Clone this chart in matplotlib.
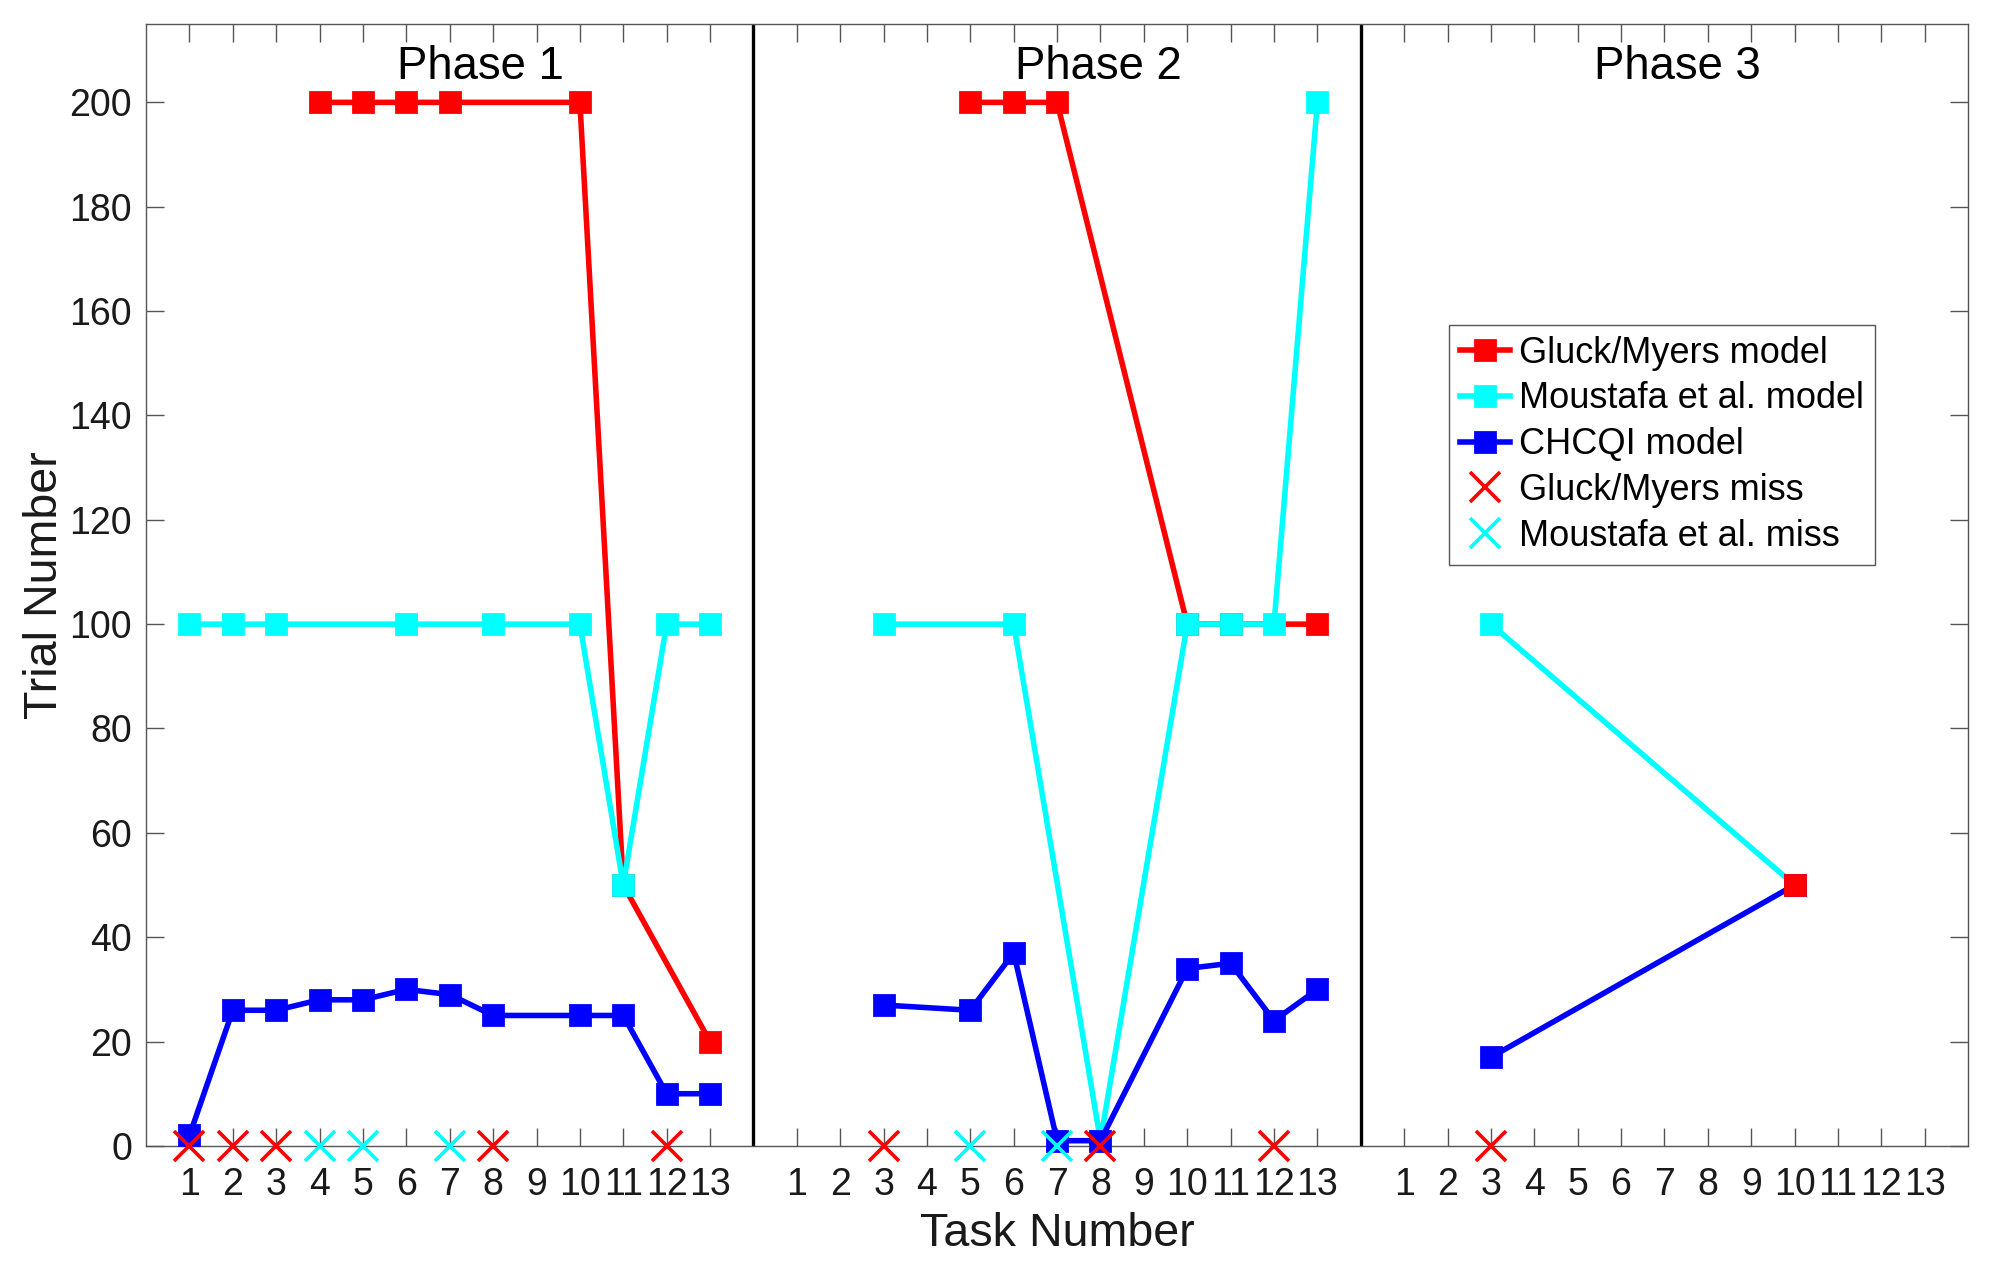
import numpy as np
import matplotlib
matplotlib.use("Agg")
import matplotlib.pyplot as plt
from matplotlib.lines import Line2D

plt.rcParams["font.family"] = ["Liberation Sans", "DejaVu Sans"]

RED, CYAN, BLUE = "#ff0000", "#00ffff", "#0000ff"

# task numbers within each phase and trial counts
gm_p1_tasks = [4, 5, 6, 7, 10, 11, 13]
gm_p1 = [200, 200, 200, 200, 200, 50, 20]
mo_p1_tasks = [1, 2, 3, 6, 8, 10, 11, 12, 13]
mo_p1 = [100, 100, 100, 100, 100, 100, 50, 100, 100]
ch_p1_tasks = [1, 2, 3, 4, 5, 6, 7, 8, 10, 11, 12, 13]
ch_p1 = [2, 26, 26, 28, 28, 30, 29, 25, 25, 25, 10, 10]
gm_p1_miss = [1, 2, 3, 8, 12]
mo_p1_miss = [4, 5, 7]

gm_p2_tasks = [5, 6, 7, 10, 11, 13]
gm_p2 = [200, 200, 200, 100, 100, 100]
mo_p2_tasks = [3, 6, 8, 10, 11, 12, 13]
mo_p2 = [100, 100, 1, 100, 100, 100, 200]
ch_p2_tasks = [3, 5, 6, 7, 8, 10, 11, 12, 13]
ch_p2 = [27, 26, 37, 1, 1, 34, 35, 24, 30]
gm_p2_miss = [3, 8, 12]
mo_p2_miss = [5, 7]

gm_p3_tasks = [10]
gm_p3 = [50]
mo_p3_tasks = [3, 10]
mo_p3 = [100, 50]
ch_p3_tasks = [3, 10]
ch_p3 = [17, 50]
gm_p3_miss = [3]
mo_p3_miss = []

phase_names = ["Phase 1", "Phase 2", "Phase 3"]
n_tasks = 13
offset = n_tasks + 1  # each phase block is 14 units wide

phases = [
    (gm_p1_tasks, gm_p1, mo_p1_tasks, mo_p1, ch_p1_tasks, ch_p1, gm_p1_miss, mo_p1_miss),
    (gm_p2_tasks, gm_p2, mo_p2_tasks, mo_p2, ch_p2_tasks, ch_p2, gm_p2_miss, mo_p2_miss),
    (gm_p3_tasks, gm_p3, mo_p3_tasks, mo_p3, ch_p3_tasks, ch_p3, gm_p3_miss, mo_p3_miss),
]

fig = plt.figure(figsize=(9.95, 6.345), dpi=200)
ax = fig.add_axes([0.0734, 0.097, 0.9156, 0.884])

lw, ms = 2.0, 7.5
xms, xmew = 10.5, 1.3
for k, (gt, gv, mt, mv, ct, cv, gmiss, mmiss) in enumerate(phases):
    off = k * offset
    gz = 6 if k == 2 else 2  # in phase 3 the red point sits on top
    ax.plot(np.array(gt) + off, gv, "-s", color=RED, lw=lw, ms=ms, zorder=gz, clip_on=False)
    ax.plot(np.array(mt) + off, mv, "-s", color=CYAN, lw=lw, ms=ms, zorder=3, clip_on=False)
    ax.plot(np.array(ct) + off, cv, "-s", color=BLUE, lw=lw, ms=ms, zorder=4, clip_on=False)
    ax.plot(np.array(gmiss) + off, np.zeros(len(gmiss)), "x", color=RED, ms=xms, mew=xmew,
            zorder=7, clip_on=False)
    if mmiss:
        ax.plot(np.array(mmiss) + off, np.zeros(len(mmiss)), "x", color=CYAN, ms=xms, mew=xmew,
                zorder=7, clip_on=False)

# phase separators
for k in (1, 2):
    ax.axvline(k * offset, color="black", lw=1.2, zorder=1)

title_x = [7.7, 21.95, 35.3]
for x, name in zip(title_x, phase_names):
    ax.text(x, 204.5, name, ha="center", va="baseline", fontsize=16.4, color="black")

ticks = [k * offset + t for k in range(3) for t in range(1, n_tasks + 1)]
ax.set_xticks(ticks)
ax.set_xticklabels([str(t) for k in range(3) for t in range(1, n_tasks + 1)])
ax.set_yticks(np.arange(0, 201, 20))
ax.set_xlim(0, 3 * offset)
ax.set_ylim(0, 215)

ax.tick_params(direction="in", top=True, right=True, length=6.5, width=0.5,
               color="#555555", labelsize=13.5, labelcolor="#1a1a1a")
ax.tick_params(axis="x", pad=7.5)
ax.tick_params(axis="y", pad=5)
for s in ax.spines.values():
    s.set_color("#555555")
    s.set_linewidth(0.5)

ax.set_xlabel("Task Number", fontsize=16.8, color="#1a1a1a", labelpad=3.5)
ax.set_ylabel("Trial Number", fontsize=16.8, color="#1a1a1a", labelpad=1)

handles = [
    Line2D([0], [0], color=RED, marker="s", lw=lw, ms=ms),
    Line2D([0], [0], color=CYAN, marker="s", lw=lw, ms=ms),
    Line2D([0], [0], color=BLUE, marker="s", lw=lw, ms=ms),
    Line2D([0], [0], color=RED, marker="x", ls="none", ms=xms, mew=xmew),
    Line2D([0], [0], color=CYAN, marker="x", ls="none", ms=xms, mew=xmew),
]
labels = ["Gluck/Myers model", "Moustafa et al. model", "CHCQI model",
          "Gluck/Myers miss", "Moustafa et al. miss"]
leg = ax.legend(handles, labels, loc="upper left", bbox_to_anchor=(0.715, 0.732),
                fontsize=13.0, fancybox=False, framealpha=1, edgecolor="#555555",
                handlelength=1.4, handletextpad=0.25, labelspacing=0.3,
                borderpad=0.3, borderaxespad=0)
leg.get_frame().set_linewidth(0.5)

fig.savefig("out.png", dpi=200, facecolor="white")
